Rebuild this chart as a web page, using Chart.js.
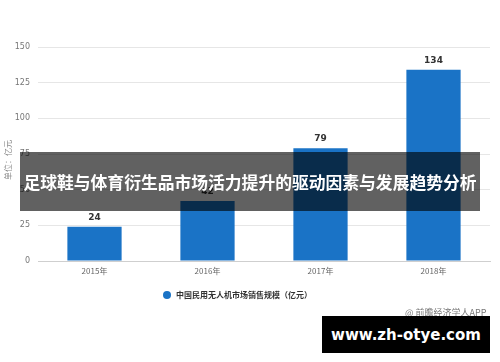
<!DOCTYPE html>
<html><head><meta charset="utf-8">
<script src="https://cdn.jsdelivr.net/npm/chart.js@4"></script>
<style>
html,body{margin:0;padding:0;background:#fff;}
#wrap{position:relative;width:500px;height:362px;overflow:hidden;font-family:"Noto Sans CJK SC","Noto Sans",sans-serif;}
canvas{position:absolute;left:0;top:0;}
.legend{position:absolute;left:163px;top:289px;font-size:8px;font-weight:bold;color:#333;white-space:nowrap;}
.legend i{display:inline-block;width:8px;height:8px;border-radius:50%;background:#1a73c6;margin-right:5px;vertical-align:-1px;}
.src{position:absolute;left:405px;top:306px;font-size:9px;color:#777;white-space:nowrap;}
.banner{position:absolute;left:20px;top:152px;width:460px;height:59px;background:rgba(0,0,0,0.62);color:#fff;font-size:16.8px;font-weight:bold;display:flex;align-items:center;justify-content:center;white-space:nowrap;}
.site{position:absolute;left:322px;top:316px;width:168px;height:37px;background:#000;color:#fff;font-family:"DejaVu Sans",sans-serif;font-size:15px;font-weight:bold;display:flex;align-items:center;justify-content:center;white-space:nowrap;}
</style></head>
<body><div id="wrap">
<canvas id="c" width="500" height="362"></canvas>
<div class="legend"><i></i>中国民用无人机市场销售规模（亿元）</div>
<div class="src">@ 前瞻经济学人APP</div>
<div class="banner">足球鞋与体育衍生品市场活力提升的驱动因素与发展趋势分析</div>
<div class="site">www.zh-otye.com</div>
</div>
<script>
const categories = ["2015年","2016年","2017年","2018年"];
const salesValues = [24, 42, 79, 134];
const yTicks = [0, 25, 50, 75, 100, 125, 150];
const seriesName = "中国民用无人机市场销售规模（亿元）";
const axisTitle = "单位：亿元";

const labelPlugin = {
  id: 'labels',
  afterDatasetsDraw(chart) {
    const ctx = chart.ctx;
    const meta = chart.getDatasetMeta(0);
    ctx.save();
    ctx.fillStyle = '#333';
    ctx.font = 'bold 9px "DejaVu Sans", sans-serif';
    ctx.textAlign = 'center';
    ctx.textBaseline = 'bottom';
    meta.data.forEach((bar, i) => {
      ctx.fillText(String(salesValues[i]), bar.x, bar.y - 5);
    });
    ctx.restore();
    ctx.save();
    ctx.translate(8, 160);
    ctx.rotate(-Math.PI / 2);
    ctx.fillStyle = '#888';
    ctx.font = '8px "Noto Sans CJK SC", sans-serif';
    ctx.textAlign = 'center';
    ctx.textBaseline = 'middle';
    ctx.fillText(axisTitle, 0, 0);
    ctx.restore();
  }
};

new Chart(document.getElementById('c'), {
  type: 'bar',
  data: {
    labels: categories,
    datasets: [{
      label: seriesName,
      data: salesValues,
      backgroundColor: '#1a73c6',
      categoryPercentage: 0.48,
      barPercentage: 1.0
    }]
  },
  options: {
    responsive: false,
    animation: false,
    layout: { padding: { left: 0, right: 10, top: 47, bottom: 81 } },
    plugins: { legend: { display: false }, tooltip: { enabled: false } },
    scales: {
      x: {
        grid: { display: false, drawTicks: false },
        border: { display: true, color: '#cfcfcf' },
        ticks: { color: '#666', font: { size: 8, family: 'Noto Sans CJK SC' }, padding: 5 },
        afterFit(s) { s.height = 20; }
      },
      y: {
        min: 0, max: 150,
        afterBuildTicks(s) { s.ticks = yTicks.map(v => ({ value: v })); },
        grid: { color: '#e6e6e6', drawTicks: false },
        border: { display: false },
        ticks: { color: '#777', font: { size: 8, family: 'DejaVu Sans' }, padding: 8 },
        afterFit(s) { s.width = 38; }
      }
    }
  },
  plugins: [labelPlugin]
});
</script>
</body></html>
